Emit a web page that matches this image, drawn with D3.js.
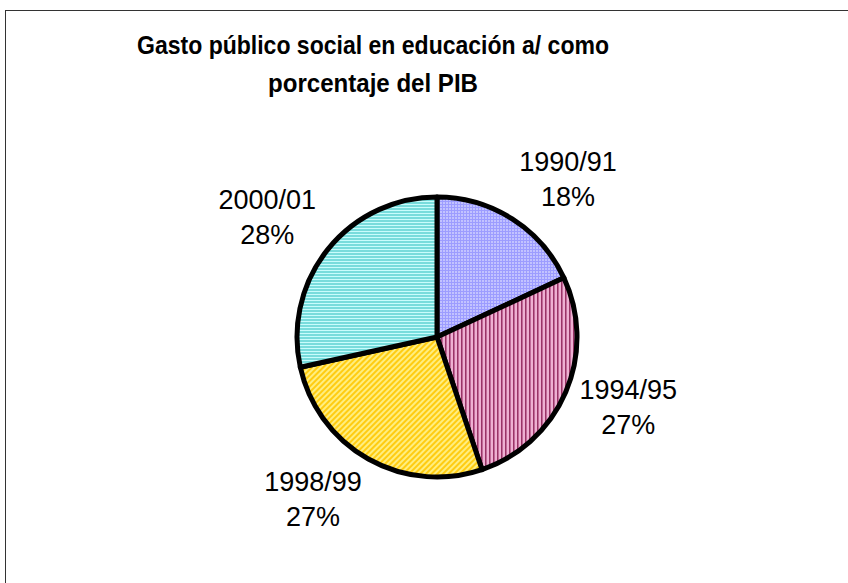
<!DOCTYPE html>
<html><head><meta charset="utf-8">
<script src="https://cdn.jsdelivr.net/npm/d3@7"></script>
<style>html,body{margin:0;padding:0;background:#fff;}svg{display:block;}</style>
</head><body>
<script>
const titleLines = ["Gasto público social en educación a/ como", "porcentaje del PIB"];
const categories = ["1990/91", "1994/95", "1998/99", "2000/01"];
const values = [2.6, 3.85, 3.85, 4.1];
const patternIds = ["pLav", "pMauve", "pYellow", "pCyan"];

const W = 848, H = 583;
const cx = 437, cy = 337, R = 140;
const labelFont = 27, lineGap = 35, labelDist = 155;

const svg = d3.select("body").append("svg").attr("width", W).attr("height", H);
const defs = svg.append("defs");

// lavender fine grid
let p = defs.append("pattern").attr("id", "pLav").attr("patternUnits", "userSpaceOnUse").attr("width", 3).attr("height", 3);
p.append("rect").attr("width", 3).attr("height", 3).attr("fill", "#9c9cff");
p.append("rect").attr("width", 2).attr("height", 2).attr("fill", "#c2c2ff");
// mauve vertical stripes
p = defs.append("pattern").attr("id", "pMauve").attr("patternUnits", "userSpaceOnUse").attr("width", 4).attr("height", 4);
p.append("rect").attr("width", 4).attr("height", 4).attr("fill", "#eeb0d2");
p.append("rect").attr("width", 1).attr("height", 4).attr("fill", "#993366");
p.append("rect").attr("x", 1).attr("width", 1).attr("height", 4).attr("fill", "#c06a98");
// yellow diagonal
p = defs.append("pattern").attr("id", "pYellow").attr("patternUnits", "userSpaceOnUse").attr("width", 4).attr("height", 4).attr("patternTransform", "rotate(45)");
p.append("rect").attr("width", 4).attr("height", 4).attr("fill", "#ffee80");
p.append("rect").attr("width", 2).attr("height", 4).attr("fill", "#ffcc11");
// cyan horizontal stripes
p = defs.append("pattern").attr("id", "pCyan").attr("patternUnits", "userSpaceOnUse").attr("width", 3).attr("height", 3);
p.append("rect").attr("width", 3).attr("height", 3).attr("fill", "#c8fcfc");
p.append("rect").attr("width", 3).attr("height", 2).attr("fill", "#78dcdc");

// frame
svg.append("rect").attr("x", 5.5).attr("y", 10.5).attr("width", 1000).attr("height", 1000)
  .attr("fill", "none").attr("stroke", "#333").attr("stroke-width", 1);

// title
const titleWidths = [472, 210];
const title = svg.append("text").attr("font-family", "Liberation Sans, Arial, sans-serif")
  .attr("font-weight", "bold").attr("font-size", 25).attr("text-anchor", "middle").attr("fill", "#000");
title.selectAll("tspan").data(titleLines).join("tspan")
  .attr("x", 373).attr("y", (d, i) => 54 + i * 37.5)
  .attr("textLength", (d, i) => titleWidths[i]).attr("lengthAdjust", "spacingAndGlyphs")
  .text(d => d);

const pie = d3.pie().sort(null).value(d => d)(values);
const arc = d3.arc().innerRadius(0).outerRadius(R);
const total = d3.sum(values);

const g = svg.append("g").attr("transform", `translate(${cx},${cy})`);
g.selectAll("path").data(pie).join("path")
  .attr("d", arc)
  .attr("fill", (d, i) => `url(#${patternIds[i]})`)
  .attr("stroke", "#000").attr("stroke-width", 5).attr("stroke-linejoin", "round");

// labels (outside end, box anchored on the slice's mid-angle ray)
const clamp = v => Math.max(-1, Math.min(1, v));
pie.forEach((d, i) => {
  const a = (d.startAngle + d.endAngle) / 2;
  const s = Math.sin(a), c = -Math.cos(a);
  const px = cx + s * labelDist, py = cy + c * labelDist;
  const lines = [categories[i], Math.round(d.value / total * 100) + "%"];
  const t = svg.append("text").attr("font-family", "Liberation Sans, Arial, sans-serif")
    .attr("font-size", labelFont).attr("text-anchor", "middle").attr("fill", "#000");
  const spans = t.selectAll("tspan").data(lines).join("tspan").text(l => l);
  const w = d3.max(spans.nodes(), n => n.getComputedTextLength());
  const capH = labelFont * 0.716;
  const h = capH + lineGap;
  const bx = px + clamp(s * 2) * w / 2;
  const by = py + clamp(2.2 * c * Math.abs(c)) * h / 2;
  const base1 = by - h / 2 + capH;
  spans.attr("x", bx).attr("y", (l, j) => base1 + j * lineGap);
});
</script>
</body></html>
